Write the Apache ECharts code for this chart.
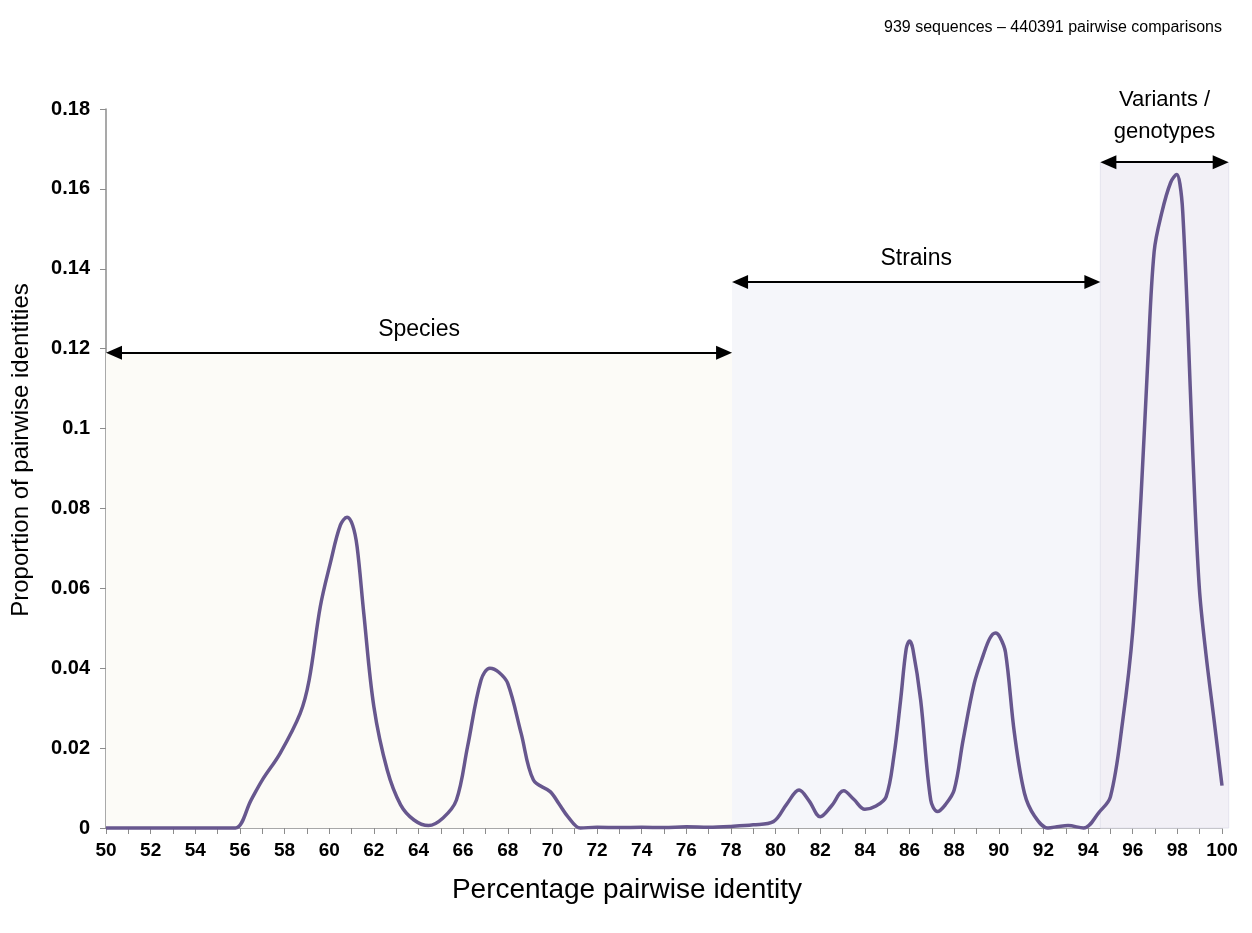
<!DOCTYPE html>
<html><head><meta charset="utf-8">
<script src="https://cdn.jsdelivr.net/npm/echarts@6/dist/echarts.min.js"></script>
<style>html,body{margin:0;padding:0;background:#fff}#c{width:1252px;height:933px}</style>
</head><body><div id="c"></div>
<script>
// Percentage pairwise identity (x) and proportion of pairwise identities (y)
const identity = [50,51,52,53,54,55,55.8,56.5,57,57.8,58.7,59.1,59.6,60.05,60.5,60.8,61.05,61.25,61.55,62,62.6,63.2,63.8,64.45,65.1,65.7,66.2,66.8,67.2,67.6,68,68.6,69.15,69.9,70.3,70.7,71.25,72,73,74,75,76,77,78,79,79.9,80.5,81.05,81.5,82,82.5,83.05,83.5,84,84.5,84.95,85.3,85.6,85.85,86,86.15,86.5,86.95,87.25,87.6,88,88.4,88.9,89.3,89.6,89.85,90.05,90.3,90.7,91.15,91.6,92.2,92.7,93.1,93.8,94.5,95,95.55,96,96.37,96.67,96.96,97.3,97.7,97.98,98.12,98.24,98.46,98.69,98.98,99.28,99.65,100];
const proportion = [0,0,0,0,0,0,0,0.007,0.012,0.0187,0.0287,0.037,0.0554,0.0663,0.0758,0.0778,0.0758,0.0704,0.0537,0.0304,0.0145,0.0058,0.002,0.0006,0.0025,0.007,0.0204,0.037,0.040,0.039,0.0362,0.0237,0.012,0.0091,0.006,0.0028,0,0.0002,0.0001,0.0002,0.0001,0.0003,0.0002,0.0004,0.0008,0.0016,0.006,0.0095,0.0068,0.0028,0.0055,0.0093,0.0072,0.0047,0.0055,0.0078,0.018,0.032,0.0448,0.0468,0.0448,0.032,0.007,0.0041,0.0058,0.0095,0.022,0.0362,0.0432,0.0475,0.0488,0.0478,0.044,0.0237,0.0087,0.003,0,0.0004,0.0006,0,0.004,0.0078,0.0268,0.0492,0.0827,0.1163,0.1443,0.154,0.1616,0.1636,0.161,0.1543,0.1275,0.0939,0.0604,0.0436,0.0268,0.0106];
// Range bands
const bandLabels = ['Species','Strains','Variants /\ngenotypes'];
const bandFrom = [50,78.05,94.55];
const bandTo = [78.05,94.55,100.3];
const bandTop = [0.119,0.1367,0.1667];
const bandColors = ['#fcfbf7','#f5f6fa','#f2f0f6'];
const xTicks = {min:50,max:100,step:2};
const yTicks = {min:0,max:0.18,step:0.02};

const chart = echarts.init(document.getElementById('c'));
const sans = '"Liberation Sans",Arial,sans-serif';
const data = identity.map((x,i)=>[x,proportion[i]]);
const baseOption = {
  animation:false,
  backgroundColor:'#ffffff',
  grid:{left:106,right:30,top:109,bottom:105,containLabel:false},
  xAxis:{type:'value',min:xTicks.min,max:xTicks.max,interval:xTicks.step,
    axisLine:{show:true,lineStyle:{color:'#8c8c8c',width:1.5}},
    axisTick:{show:true,length:6,lineStyle:{color:'#8c8c8c'}},
    minorTick:{show:true,splitNumber:2,length:6,lineStyle:{color:'#8c8c8c'}},
    splitLine:{show:false},
    axisLabel:{fontFamily:sans,fontWeight:'bold',fontSize:19,color:'#000',margin:13}},
  yAxis:{type:'value',min:yTicks.min,max:yTicks.max,interval:yTicks.step,
    axisLine:{show:true,lineStyle:{color:'#8c8c8c',width:1.5}},
    axisTick:{show:true,length:6,lineStyle:{color:'#8c8c8c'}},
    splitLine:{show:false},
    axisLabel:{fontFamily:sans,fontWeight:'bold',fontSize:20,color:'#000',margin:16}},
  graphic:[
    {type:'text',x:1222,y:28,style:{text:'939 sequences \u2013 440391 pairwise comparisons',font:'16px '+sans,fill:'#000',textAlign:'right',textVerticalAlign:'middle'}},
    {type:'text',x:21,y:450,rotation:Math.PI/2,
      style:{text:'Proportion of pairwise identities',font:'24px '+sans,fill:'#000',textAlign:'center',textVerticalAlign:'middle'}},
    {type:'text',x:627,y:890,style:{text:'Percentage pairwise identity',font:'28px '+sans,fill:'#000',textAlign:'center',textVerticalAlign:'middle'}}
  ],
  series:[{type:'line',data:data,smooth:0.35,symbol:'none',clip:false,
    lineStyle:{color:'#67578e',width:3.5}}]
};
chart.setOption(baseOption);
// band corners go through the chart's own scales (last band reaches past the axis end)
const px = (x,y)=>chart.convertToPixel({gridIndex:0},[x,y]);
const head = 8; // half of the arrowhead length, so the tips sit on the band edges
const areas = bandLabels.map((l,i)=>{
  const a = px(bandFrom[i],0), b = px(bandTo[i],bandTop[i]);
  return [{x:a[0],y:a[1],itemStyle:{color:bandColors[i],borderColor:i===2?'#e4e3ee':'transparent',borderWidth:i===2?1:0}},{x:b[0],y:b[1]}];
});
const lines = bandLabels.map((l,i)=>{
  const a = px(bandFrom[i],bandTop[i]), b = px(bandTo[i],bandTop[i]);
  return [{x:a[0]+head,y:a[1],label:{formatter:l,distance:i===2?14:7,fontSize:i===2?22:23}},{x:b[0]-head,y:b[1]}];
});
chart.setOption({series:[{
  markArea:{silent:true,data:areas},
  markLine:{silent:true,symbol:['triangle','triangle'],symbolSize:[14,16],
    lineStyle:{color:'#000',width:2,type:'solid'},
    itemStyle:{color:'#000'},
    label:{show:true,position:'middle',fontFamily:sans,color:'#000',lineHeight:32},
    data:lines}
}]});
</script></body></html>
